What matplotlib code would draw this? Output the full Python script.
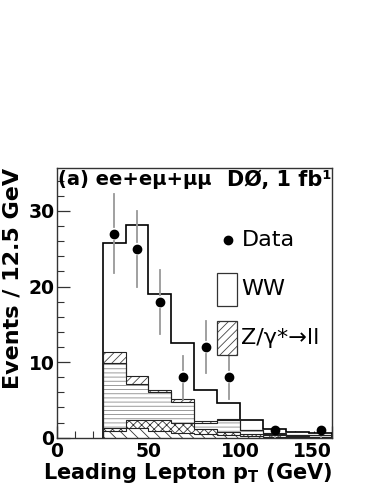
import numpy as np
import matplotlib
matplotlib.use("Agg")
import matplotlib.pyplot as plt
from matplotlib.patches import Rectangle
from matplotlib.ticker import MultipleLocator

plt.rcParams['font.family'] = ['DejaVu Sans']
plt.rcParams['hatch.linewidth'] = 0.6
plt.rcParams['mathtext.fontset'] = 'dejavusans'

# ---- data ----
bin_edges = [25, 37.5, 50, 62.5, 75, 87.5, 100, 112.5, 125, 137.5, 150]
bkg_diag = [0.9, 1.3, 0.9, 0.65, 0.45, 0.35, 0.25, 0.15, 0.1, 0.05]     # "\\" hatch
bkg_cross = [0.35, 1.05, 1.4, 1.25, 0.65, 0.4, 0.3, 0.2, 0.15, 0.1]    # "x" hatch
bkg_horiz = [8.6, 4.75, 3.8, 2.85, 0.9, 1.6, 0.45, 0.2, 0.1, 0.15]     # "-" hatch
zgamma = [1.55, 1.0, 0.25, 0.35, 0.25, 0.15, 0.05, 0.05, 0.05, 0.0]    # Z/gamma* -> ll
ww = [14.3, 20.0, 12.65, 7.4, 4.05, 2.1, 1.25, 0.5, 0.3, 0.3]          # WW
data_counts = [27, 25, 18, 8, 12, 8, 0, 1, 0, 1]

x_ticks = [0, 50, 100, 150]
x_ticklabels = ['0', '50', '100', '150']
y_ticks = [0, 10, 20, 30]
y_ticklabels = ['0', '10', '20', '30']

# ---- figure ----
fig = plt.figure(figsize=(3.82, 4.94), dpi=100)
ax = fig.add_axes([0.1484, 0.114, 0.7207, 0.5453])
ax.set_xlim(0, 150)
ax.set_ylim(0, 35.65)

edges = np.array(bin_edges)
layers = [np.array(bkg_diag), np.array(bkg_cross), np.array(bkg_horiz),
          np.array(zgamma), np.array(ww)]
hatches = ['\\\\\\', 'xxxx', '----', '////', None]
hcolors = ['#333333', '#333333', '#8a8a8a', '#444444', 'white']
cum = np.cumsum(np.vstack(layers), axis=0)

for k in range(len(layers) - 1, -1, -1):
    ax.stairs(cum[k], edges, baseline=0, fill=True, facecolor='white',
              edgecolor=hcolors[k], hatch=hatches[k], linewidth=0, zorder=2)
    ax.stairs(cum[k], edges, baseline=0, fill=False,
              color='black' if k == len(layers) - 1 else '#222222',
              linewidth=1.2 if k == len(layers) - 1 else 0.8, zorder=3)

# data with error bars (gap around the marker)
centers = 0.5 * (edges[:-1] + edges[1:])
counts = np.array(data_counts, dtype=float)
mask = counts > 0
xd = centers[mask]
yd = counts[mask]
err = np.sqrt(yd)
ax_h_px = ax.get_position().height * fig.get_figheight() * fig.dpi
gap = 7.0 * (ax.get_ylim()[1] - ax.get_ylim()[0]) / ax_h_px
for xi, yi, ei in zip(xd, yd, err):
    if ei > gap:
        ax.plot([xi, xi], [yi + gap, yi + ei], color='#999999', lw=1.3, zorder=4)
        ax.plot([xi, xi], [max(yi - ei, 0), yi - gap], color='#999999', lw=1.3, zorder=4)
ax.plot(xd, yd, 'o', color='black', markersize=6, zorder=5)

# ---- axes styling ----
for s in ax.spines.values():
    s.set_color('#333333')
    s.set_linewidth(1.0)
ax.set_xticks(x_ticks)
ax.set_yticks(y_ticks)
ax.set_xticklabels(x_ticklabels, fontweight='bold')
ax.set_yticklabels(y_ticklabels, fontweight='bold')
ax.xaxis.set_minor_locator(MultipleLocator(10))
ax.yaxis.set_minor_locator(MultipleLocator(2))
ax.tick_params(axis='both', which='major', direction='in', length=9, width=0.9,
               color='#333333', labelsize=13.5)
ax.tick_params(axis='both', which='minor', direction='in', length=5, width=0.8,
               color='#333333')
ax.tick_params(axis='y', which='both', left=True, right=False, pad=1.5)
ax.tick_params(axis='x', which='both', bottom=True, top=False, pad=3)

ax.set_xlabel(r'Leading Lepton p$_{\mathbf{T}}$ (GeV)', loc='right',
              fontsize=15, fontweight='bold', labelpad=0)
ax.set_ylabel('Events / 12.5 GeV', loc='top', fontsize=16,
              fontweight='bold', labelpad=4)

ax.text(0.005, 0.995, '(a) ee+eμ+μμ', transform=ax.transAxes, ha='left',
        va='top', fontsize=14, fontweight='bold', zorder=6)
ax.text(1.0, 0.995, 'DØ, 1 fb¹', transform=ax.transAxes, ha='right',
        va='top', fontsize=15, fontweight='bold', zorder=6)

# ---- manual legend ----
ax.plot([0.621], [0.733], 'o', color='black', markersize=6,
        transform=ax.transAxes, zorder=6)
ax.text(0.672, 0.733, 'Data', transform=ax.transAxes, ha='left',
        va='center', fontsize=16, zorder=6)
ax.add_patch(Rectangle((0.581, 0.488), 0.075, 0.125, transform=ax.transAxes,
                       facecolor='white', edgecolor='#333333', lw=0.9, zorder=6))
ax.text(0.669, 0.551, 'WW', transform=ax.transAxes, ha='left',
        va='center', fontsize=16, zorder=6)
ax.add_patch(Rectangle((0.581, 0.307), 0.075, 0.125, transform=ax.transAxes,
                       facecolor='white', edgecolor='#444444', hatch='////',
                       lw=0, zorder=6))
ax.add_patch(Rectangle((0.581, 0.307), 0.075, 0.125, transform=ax.transAxes,
                       facecolor='none', edgecolor='#333333', lw=0.9, zorder=6))
ax.text(0.669, 0.369, 'Z/γ*→ll', transform=ax.transAxes, ha='left',
        va='center', fontsize=16, zorder=6)

# keep the last x tick label inside the frame, as in the reference
fig.canvas.draw()
ax.xaxis.get_major_ticks()[-1].label1.set_horizontalalignment('right')

fig.savefig('out.png', dpi=100)
